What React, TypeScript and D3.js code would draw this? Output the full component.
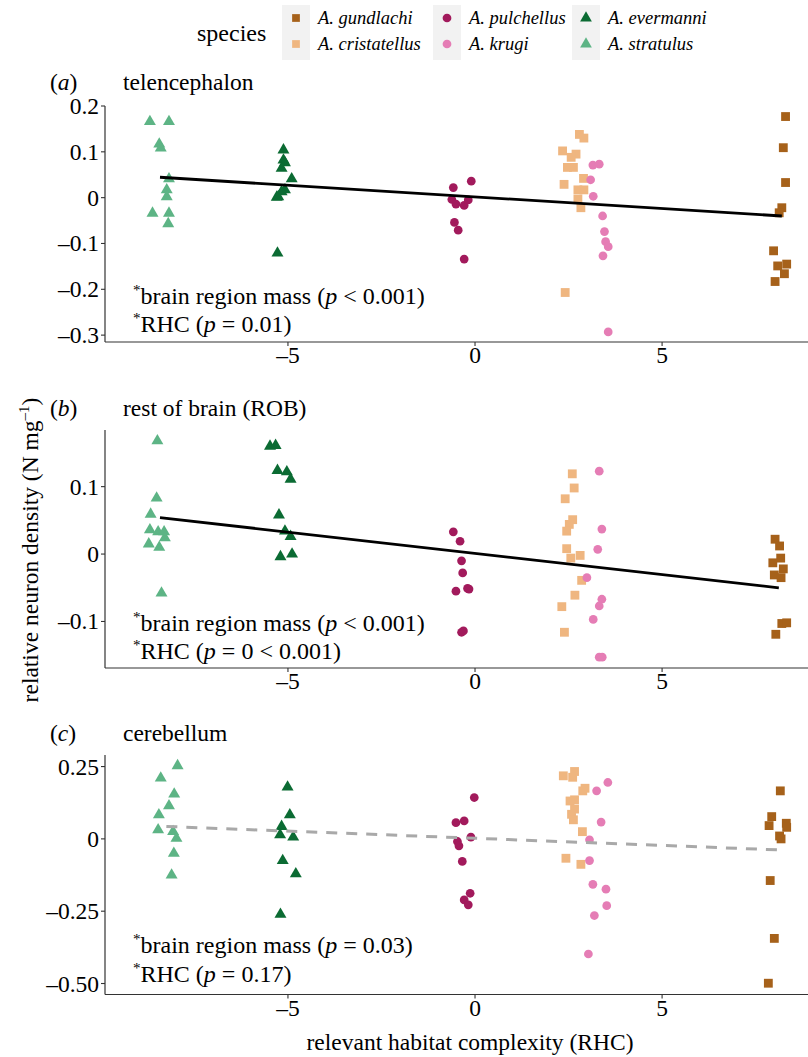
import React from 'react';
import * as d3 from 'd3';

// species order: 0 gundlachi, 1 cristatellus, 2 pulchellus, 3 krugi, 4 evermanni, 5 stratulus
const species = ['A. gundlachi', 'A. cristatellus', 'A. pulchellus', 'A. krugi', 'A. evermanni', 'A. stratulus'];
const speciesColors = ['#a6611a', '#efb680', '#a21a5c', '#e57db5', '#0b6b33', '#5db485'];
const speciesShapes = [d3.symbolSquare, d3.symbolSquare, d3.symbolCircle, d3.symbolCircle, d3.symbolTriangle, d3.symbolTriangle];

// [species, RHC (jittered), relative neuron density]
const telencephalon = [
  [5, -8.69, 0.166], [5, -8.18, 0.166], [5, -8.44, 0.117], [5, -8.4, 0.108], [5, -8.18, 0.041],
  [5, -8.24, 0.017], [5, -8.24, 0.002], [5, -8.62, -0.034], [5, -8.18, -0.034], [5, -8.2, -0.057],
  [4, -5.12, 0.104], [4, -5.12, 0.082], [4, -5.08, 0.076], [4, -5.17, 0.064], [4, -4.9, 0.041],
  [4, -5.08, 0.017], [4, -5.17, 0.013], [4, -5.3, 0.001], [4, -5.26, 0.002], [4, -5.28, -0.121],
  [2, -0.58, 0.022], [2, -0.1, 0.036], [2, -0.62, -0.004], [2, -0.51, -0.014], [2, -0.29, -0.017],
  [2, -0.18, -0.005], [2, -0.55, -0.054], [2, -0.45, -0.071], [2, -0.29, -0.134],
  [1, 2.79, 0.138], [1, 2.91, 0.13], [1, 2.34, 0.102], [1, 2.7, 0.095], [1, 2.57, 0.088],
  [1, 2.47, 0.066], [1, 2.63, 0.066], [1, 2.38, 0.029], [1, 2.9, 0.042], [1, 2.75, 0.017],
  [1, 2.91, 0.017], [1, 2.75, -0.003], [1, 2.83, -0.022], [1, 2.41, -0.207],
  [3, 3.15, 0.071], [3, 3.32, 0.073], [3, 3.09, 0.039], [3, 3.16, 0.003], [3, 3.41, -0.04],
  [3, 3.46, -0.074], [3, 3.49, -0.096], [3, 3.56, -0.107], [3, 3.42, -0.127], [3, 3.56, -0.293],
  [0, 8.3, 0.177], [0, 8.24, 0.109], [0, 8.3, 0.033], [0, 8.2, -0.022], [0, 8.13, -0.033],
  [0, 7.98, -0.116], [0, 8.09, -0.149], [0, 8.33, -0.145], [0, 8.27, -0.166], [0, 8.02, -0.183],
];

const restOfBrain = [
  [5, -8.49, 0.168], [5, -8.51, 0.083], [5, -8.67, 0.059], [5, -8.69, 0.036], [5, -8.47, 0.033],
  [5, -8.31, 0.033], [5, -8.29, 0.024], [5, -8.72, 0.015], [5, -8.44, 0.01], [5, -8.38, -0.058],
  [4, -5.48, 0.16], [4, -5.33, 0.161], [4, -5.28, 0.124], [4, -5.03, 0.122], [4, -4.93, 0.111],
  [4, -5.24, 0.058], [4, -5.08, 0.034], [4, -4.93, 0.026], [4, -5.2, -0.004], [4, -4.89, 0.0],
  [2, -0.58, 0.033], [2, -0.4, 0.019], [2, -0.36, -0.01], [2, -0.33, -0.028], [2, -0.51, -0.055],
  [2, -0.2, -0.051], [2, -0.16, -0.052], [2, -0.36, -0.116], [2, -0.31, -0.114],
  [1, 2.6, 0.119], [1, 2.65, 0.098], [1, 2.41, 0.082], [1, 2.61, 0.051], [1, 2.52, 0.044],
  [1, 2.45, 0.034], [1, 2.45, 0.008], [1, 2.56, -0.006], [1, 2.81, -0.002], [1, 2.85, -0.039],
  [1, 2.67, -0.061], [1, 2.32, -0.078], [1, 2.39, -0.116],
  [3, 3.32, 0.123], [3, 3.39, 0.037], [3, 3.28, 0.007], [3, 2.99, -0.035], [3, 3.39, -0.067],
  [3, 3.32, -0.077], [3, 3.16, -0.097], [3, 3.32, -0.153], [3, 3.4, -0.153],
  [0, 8.02, 0.022], [0, 8.14, 0.012], [0, 8.17, -0.006], [0, 7.96, -0.013], [0, 8.24, -0.022],
  [0, 8.0, -0.031], [0, 8.18, -0.035], [0, 8.2, -0.103], [0, 8.33, -0.102], [0, 8.04, -0.119],
];

const cerebellum = [
  [5, -7.95, 0.253], [5, -8.4, 0.21], [5, -8.04, 0.155], [5, -8.18, 0.114], [5, -8.45, 0.083],
  [5, -8.47, 0.031], [5, -8.07, 0.025], [5, -7.98, 0.002], [5, -8.05, -0.05], [5, -8.11, -0.125],
  [4, -5.01, 0.179], [4, -4.95, 0.083], [4, -5.17, 0.043], [4, -5.21, 0.014], [4, -4.86, 0.006],
  [4, -5.14, -0.075], [4, -4.79, -0.121], [4, -5.2, -0.261],
  [2, -0.02, 0.143], [2, -0.51, 0.056], [2, -0.29, 0.062], [2, -0.11, 0.006], [2, -0.47, -0.009],
  [2, -0.43, -0.024], [2, -0.34, -0.078], [2, -0.13, -0.188], [2, -0.29, -0.211], [2, -0.18, -0.228],
  [1, 2.66, 0.233], [1, 2.36, 0.218], [1, 2.61, 0.213], [1, 2.94, 0.175], [1, 2.88, 0.166],
  [1, 2.66, 0.135], [1, 2.54, 0.131], [1, 2.66, 0.103], [1, 2.58, 0.085], [1, 2.63, 0.066],
  [1, 2.87, 0.025], [1, 2.43, -0.067], [1, 2.83, -0.088],
  [3, 3.55, 0.195], [3, 3.25, 0.166], [3, 3.37, 0.058], [3, 3.06, -0.003], [3, 3.06, -0.075],
  [3, 3.15, -0.157], [3, 3.5, -0.174], [3, 3.52, -0.231], [3, 3.19, -0.265], [3, 3.03, -0.398],
  [0, 8.16, 0.166], [0, 7.93, 0.077], [0, 7.86, 0.046], [0, 8.32, 0.054], [0, 8.33, 0.04],
  [0, 8.14, 0.01], [0, 8.18, 0.0], [0, 7.89, -0.144], [0, 8.0, -0.344], [0, 7.84, -0.499],
];

// fitted lines: [x0, y0, x1, y1]
const telencephalonFit = [-8.42, 0.0445, 8.2, -0.04];
const restOfBrainFit = [-8.42, 0.054, 8.12, -0.05];
const cerebellumFit = [-8.25, 0.043, 8.1, -0.038];

const xTicks = [-5, 0, 5];
const telencephalonTicks = [0.2, 0.1, 0, -0.1, -0.2, -0.3];
const restOfBrainTicks = [0.1, 0, -0.1];
const cerebellumTicks = [0.25, 0, -0.25, -0.5];
const cerebellumTickLabels = ['0.25', '0', '–0.25', '–0.50'];

const panels = [
  {
    letter: 'a', title: 'telencephalon', data: telencephalon, fit: telencephalonFit, sig: true,
    domain: [-0.315, 0.2], range: [342, 106], ticks: telencephalonTicks, labels: null,
    stats: ['< 0.001', '= 0.01'], statY: [304, 332], titleY: 90,
  },
  {
    letter: 'b', title: 'rest of brain (ROB)', data: restOfBrain, fit: restOfBrainFit, sig: true,
    domain: [-0.169, 0.184], range: [668, 430], ticks: restOfBrainTicks, labels: null,
    stats: ['< 0.001', '= 0 < 0.001'], statY: [631, 659], titleY: 416,
  },
  {
    letter: 'c', title: 'cerebellum', data: cerebellum, fit: cerebellumFit, sig: false,
    domain: [-0.538, 0.29], range: [994.5, 755], ticks: cerebellumTicks, labels: cerebellumTickLabels,
    stats: ['= 0.03', '= 0.17'], statY: [953, 982], titleY: 741,
  },
];

const font = '"Liberation Serif", "Times New Roman", serif';
const fmt = (v: number) => (v < 0 ? '–' + String(-v) : String(v));

export default function App() {
  const width = 808;
  const height = 1057;
  const x = d3.scaleLinear().domain([-9.89, 8.9]).range([105, 808]);
  const sym = (i: number, size: number) => d3.symbol().type(speciesShapes[i]).size(size)() as string;
  const sizes = [78, 78, 60, 60, 62, 62];

  const legendCols = [[0, 1], [2, 3], [4, 5]];
  const legendX = [282, 433, 572];

  return (
    <svg width={width} height={height} style={{ display: 'block', position: 'absolute', left: 0, top: 0 }} fontFamily={font}>
      <rect width={width} height={height} fill="#fff" />
      {/* legend */}
      <text x={197} y={41} fontSize={24}>species</text>
      {legendCols.map((col, ci) => (
        <g key={ci}>
          <rect x={legendX[ci]} y={5} width={28} height={55} fill="#f2f2f2" />
          {col.map((s, ri) => (
            <g key={s}>
              <path d={sym(s, 60)} transform={`translate(${legendX[ci] + 14},${18 + ri * 26})`} fill={speciesColors[s]} />
              <text x={legendX[ci] + 36} y={24 + ri * 26} fontSize={18.5} fontStyle="italic">{species[s]}</text>
            </g>
          ))}
        </g>
      ))}
      {/* y axis title */}
      <text transform="translate(38,550) rotate(-90)" textAnchor="middle" fontSize={23.5}>
        relative neuron density (N mg<tspan dy={-9} fontSize={15}>–1</tspan><tspan dy={9}>)</tspan>
      </text>
      {/* x axis title */}
      <text x={470} y={1050} textAnchor="middle" fontSize={23.5}>relevant habitat complexity (RHC)</text>

      {panels.map((p) => {
        const y = d3.scaleLinear().domain(p.domain).range(p.range);
        const [fx0, fy0, fx1, fy1] = p.fit;
        const bottom = p.range[0];
        const top = p.range[1];
        return (
          <g key={p.letter}>
            <text x={50} y={p.titleY} fontSize={23.5}>(<tspan fontStyle="italic">{p.letter}</tspan>)</text>
            <text x={123} y={p.titleY} fontSize={23.5}>{p.title}</text>
            {/* axes */}
            <line x1={105} x2={808} y1={bottom} y2={bottom} stroke="#333" strokeWidth={1.2} />
            <line x1={105} x2={105} y1={top} y2={bottom} stroke="#333" strokeWidth={1.2} />
            {p.ticks.map((t, i) => (
              <g key={t}>
                <line x1={101} x2={105} y1={y(t)} y2={y(t)} stroke="#333" strokeWidth={1.1} />
                <text x={99} y={y(t) + 8} textAnchor="end" fontSize={23.5}>{p.labels ? p.labels[i] : fmt(t)}</text>
              </g>
            ))}
            {xTicks.map((t) => (
              <g key={t}>
                <line x1={x(t)} x2={x(t)} y1={bottom} y2={bottom + 4} stroke="#333" strokeWidth={1.1} />
                <text x={x(t)} y={bottom + 21} textAnchor="middle" fontSize={23.5}>{fmt(t)}</text>
              </g>
            ))}
            {/* points */}
            {p.data.map((d, i) => (
              <path key={i} d={sym(d[0], sizes[d[0]])} transform={`translate(${x(d[1])},${y(d[2])})`} fill={speciesColors[d[0]]} />
            ))}
            {/* fit */}
            <line x1={x(fx0)} y1={y(fy0)} x2={x(fx1)} y2={y(fy1)}
              stroke={p.sig ? '#000' : '#a9a9a9'} strokeWidth={p.sig ? 2.8 : 3}
              strokeDasharray={p.sig ? undefined : '11 9'} />
            {/* stats */}
            <text x={133} y={p.statY[0]} fontSize={24}>
              <tspan fontSize={15} dy={-9}>*</tspan><tspan dy={9}>brain region mass (</tspan><tspan fontStyle="italic">p</tspan> {p.stats[0]})
            </text>
            <text x={133} y={p.statY[1]} fontSize={24}>
              <tspan fontSize={15} dy={-9}>*</tspan><tspan dy={9}>RHC (</tspan><tspan fontStyle="italic">p</tspan> {p.stats[1]})
            </text>
          </g>
        );
      })}
    </svg>
  );
}
